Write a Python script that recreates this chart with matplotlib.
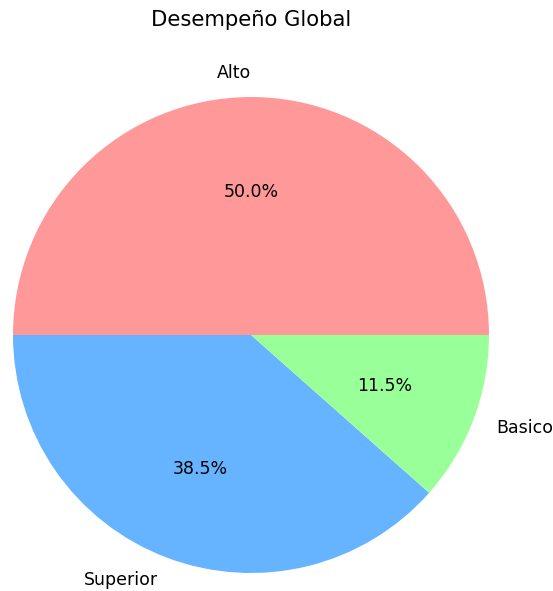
import matplotlib
matplotlib.use("Agg")
from matplotlib import pyplot as plt

categories = ["Alto", "Superior", "Basico"]
counts = [13, 10, 3]
colors = ["#ff9999", "#66b3ff", "#99ff99"]

W, H = 553, 591
fig = plt.figure(figsize=(W / 100, H / 100), dpi=100)

# pie centre and radius in pixels
cx, cy, r = 251, 335, 238
ax = fig.add_axes([(cx - r) / W, (H - cy - r) / H, 2 * r / W, 2 * r / H])
ax.pie(counts, labels=categories, colors=colors, autopct="%1.1f%%",
       textprops={"fontsize": 12.5})
ax.set_xlim(-1, 1)
ax.set_ylim(-1, 1)
ax.set_aspect("equal")

fig.text(cx / W, 1 - 20 / H, "Desempeño Global", ha="center", va="center",
         fontsize=15.2)

fig.savefig("out.png", dpi=100)
